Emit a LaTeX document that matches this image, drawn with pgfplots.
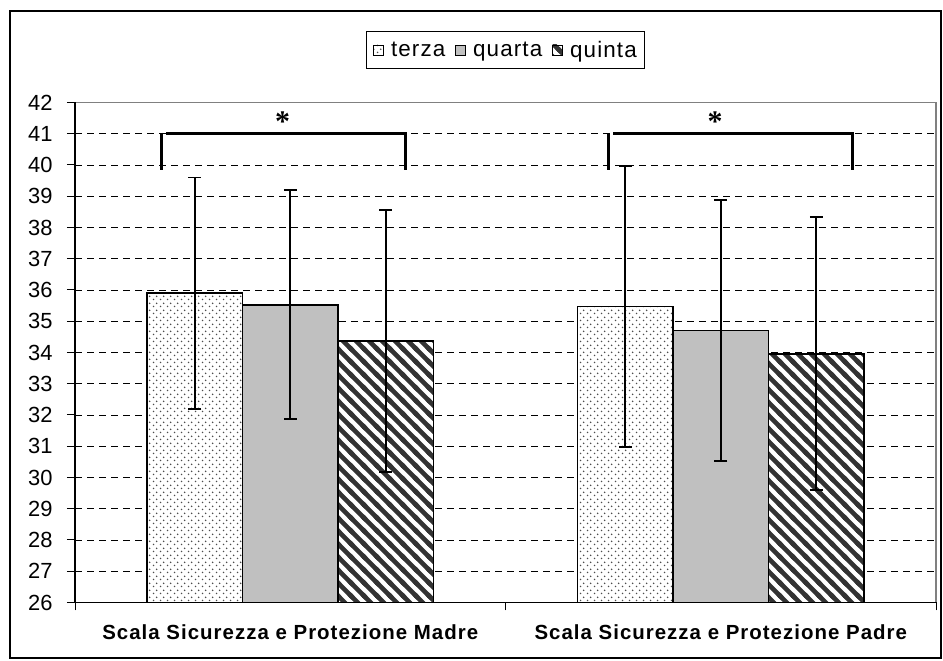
\documentclass[border=0pt]{standalone}
\usepackage{fontspec}
\setmainfont{Liberation Sans}
\newfontfamily\astfont{Liberation Serif}
\usepackage{pgfplots}
\pgfplotsset{compat=1.18}
\usetikzlibrary{patterns.meta}

\tikzdeclarepattern{
  name=mydots,
  type=uncolored,
  bottom left={(0bp,0bp)},
  top right={(6.6bp,6.6bp)},
  tile size={(6.6bp,6.6bp)},
  code={
    \fill (1.65bp,1.65bp) circle (0.9bp);
    \fill (4.95bp,4.95bp) circle (0.9bp);
  }
}
\tikzdeclarepattern{
  name=mystripes,
  type=uncolored,
  bottom left={(-2bp,-2bp)},
  top right={(15bp,15bp)},
  tile size={(13bp,13bp)},
  code={
    \draw[line width=4.6bp] (-2bp,15bp) -- (15bp,-2bp);
    \draw[line width=4.6bp] (-2bp,2bp) -- (2bp,-2bp);
    \draw[line width=4.6bp] (11bp,15bp) -- (15bp,11bp);
  }
}

\definecolor{silver}{RGB}{192,192,192}
\definecolor{bordergray}{RGB}{128,128,128}

\newcommand\tickfont{\fontsize{22}{25}\selectfont}
\newcommand\legfont{\fontsize{22.5}{26}\selectfont\addfontfeatures{LetterSpace=5}}
\newcommand\catfont{\fontsize{20.5}{23}\selectfont\bfseries\addfontfeatures{LetterSpace=5}}

\begin{document}
\begin{tikzpicture}[x=1bp,y=1bp]
\path[use as bounding box] (0,0) rectangle (943,661);
\draw[line width=1.5bp] (10,3) rectangle (941,650);
\begin{axis}[
  name=ax,
  at={(75bp,58.5bp)}, anchor=south west,
  scale only axis, width=861bp, height=500bp,
  xmin=0, xmax=2, ymin=26, ymax=42,
  ybar, bar width=0.2218,
  axis line style={draw=none},
  ytick={26,...,42},
  ytick pos=left, xtick pos=left,
  tick align=outside,
  major tick length=8bp,
  tick style={black, line width=1bp},
  xtick={0,1,2}, xticklabels={},
  extra x ticks={0.5,1.5},
  extra x tick labels={Scala Sicurezza e Protezione Madre, Scala Sicurezza e Protezione Padre},
  extra x tick style={major tick length=0pt, xticklabel style={font=\catfont, yshift=-19bp}},
  ymajorgrids=true,
  major grid style={black, line width=0.9bp, dash pattern=on 7bp off 5bp},
  yticklabel style={font=\tickfont, xshift=-11bp},
  /pgf/number format/assume math mode=true,
  legend columns=3,
  legend style={at={(0.5,1.105)}, anchor=center, draw=black, line width=1bp, font=\legfont,
    inner xsep=7bp, inner ysep=8bp,
    nodes={inner xsep=1bp},
    /tikz/every odd column/.append style={column sep=6bp},
    /tikz/every even column/.append style={column sep=9bp}},
  legend image code/.code={\draw[#1, line width=0.8bp] (0bp,-5bp) rectangle (10bp,5bp);},
  error bars/error bar style={line width=1.8bp, black, solid},
  error bars/error mark options={rotate=90, mark size=6.5bp, line width=1.8bp, black},
]
\addplot[fill=white, postaction={pattern=mydots, pattern color=gray!60!black}, draw=black, line width=1.7bp, bar shift=-0.2218,
  error bars/.cd, y dir=both, y explicit]
  coordinates {(0.5,35.9) +- (0,3.7) (1.5,35.47) +- (0,4.5)};
\addlegendentry{terza}
\addplot[fill=silver, draw=black, line width=1.7bp, bar shift=0,
  error bars/.cd, y dir=both, y explicit]
  coordinates {(0.5,35.53) +- (0,3.67) (1.5,34.7) +- (0,4.17)};
\addlegendentry{quarta}
\addplot[fill=white, postaction={pattern=mystripes, pattern color=black!80}, draw=black, line width=1.7bp, bar shift=0.2218,
  error bars/.cd, y dir=both, y explicit]
  coordinates {(0.5,34.37) +- (0,4.2) (1.5,33.96) +- (0,4.37)};
\addlegendentry{quinta}

\draw[line width=3bp] (axis cs:0.1998,41.03) -- (axis cs:0.1998,39.85);
\draw[line width=3bp] (axis cs:0.2114,41) -- (axis cs:0.768,41) -- (axis cs:0.768,39.85);
\draw[line width=3bp] (axis cs:1.2388,41.03) -- (axis cs:1.2388,39.85);
\draw[line width=3bp] (axis cs:1.2500,41) -- (axis cs:1.8065,41) -- (axis cs:1.8065,39.85);
\node[font=\astfont\fontsize{30}{32}\selectfont\bfseries, inner sep=0pt, anchor=base] at (axis cs:0.4825,41.08) {*};
\node[font=\astfont\fontsize{30}{32}\selectfont\bfseries, inner sep=0pt, anchor=base] at (axis cs:1.4866,41.08) {*};
\end{axis}
\draw[bordergray, line width=1.2bp] (ax.north west) -- (ax.north east) -- (ax.south east);
\draw[black, line width=1.5bp] (ax.north west) -- (ax.south west) -- (ax.south east);
\end{tikzpicture}
\end{document}
